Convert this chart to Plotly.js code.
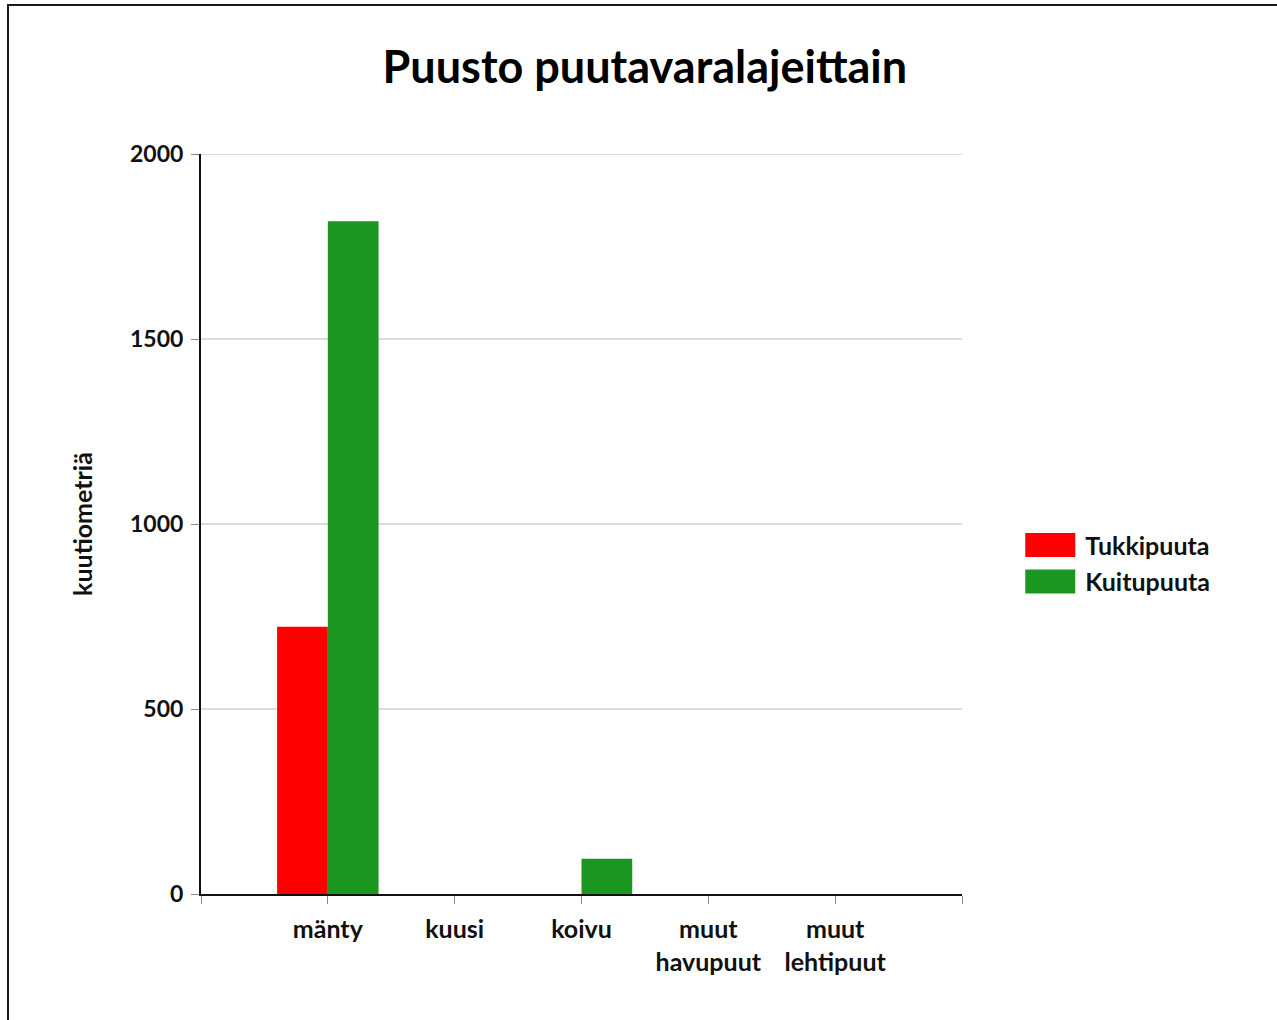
<!DOCTYPE html>
<html>
<head>
<meta charset="utf-8">
<script src="https://cdn.plot.ly/plotly-3.0.1.min.js"></script>
<style>
  html, body { margin: 0; padding: 0; background: #fff; }
  #chart { position: absolute; left: 0; top: 0; width: 1277px; height: 1020px; }
  #frame { position: absolute; left: 7px; top: 4px; width: 1270px; height: 1016px;
           border-top: 2px solid #1a1a1a; border-left: 2px solid #1a1a1a;
           box-sizing: border-box; pointer-events: none; }
</style>
</head>
<body>
<div id="chart"></div>
<div id="frame"></div>
<script>
const categories = ["mänty", "kuusi", "koivu", "muut<br>havupuut", "muut<br>lehtipuut"];
const seriesNames = ["Tukkipuuta", "Kuitupuuta"];
const tukkipuuta = [722, 0, 0, 0, 0];
const kuitupuuta = [1818, 0, 95, 0, 0];
const yTicks = [0, 500, 1000, 1500, 2000];

const FONT = "Lato, 'Open Sans', sans-serif";
const idx = categories.map((c, i) => i);
const yMax = yTicks[yTicks.length - 1];

const traces = [
  { type: "bar", name: seriesNames[0], x: idx, y: tukkipuuta,
    marker: { color: "#ff0000", line: { width: 0 } }, legendgroup: "a" },
  { type: "bar", name: seriesNames[1], x: idx, y: kuitupuuta,
    marker: { color: "#1b9620", line: { width: 0 } }, legendgroup: "b" }
];

const tickvals = [-1].concat(idx, [categories.length]);
const ticktext = [""].concat(categories, [""]);

const layout = {
  width: 1277, height: 1020,
  paper_bgcolor: "#fff", plot_bgcolor: "#fff",
  margin: { l: 201, r: 315, t: 154, b: 126, pad: 0 },
  font: { family: FONT, size: 25, color: "#111" },
  title: { text: "<b>Puusto puutavaralajeittain</b>", font: { family: FONT, size: 45, color: "#000" },
           xref: "container", x: 0.505, xanchor: "center", yref: "container", y: 0.934, yanchor: "middle" },
  barmode: "group", bargap: 0.2, bargroupgap: 0,
  xaxis: {
    range: [-1, categories.length], tickmode: "array", tickvals: tickvals, ticktext: ticktext.map(t => t ? "<b>" + t + "</b>" : ""),
    showgrid: false, zeroline: false, showline: true, linecolor: "#111", linewidth: 2,
    ticks: "outside", ticklen: 8, tickwidth: 1, tickcolor: "#888", ticklabelstandoff: 4,
    tickfont: { family: FONT, size: 25, color: "#111" }, fixedrange: true
  },
  yaxis: {
    range: [0, yMax], tickmode: "array", tickvals: yTicks, ticktext: yTicks.map(v => "<b>" + v + "</b>"),
    showgrid: true, gridcolor: "#dcdcdc", gridwidth: 2, zeroline: false,
    showline: true, linecolor: "#111", linewidth: 2,
    ticks: "outside", ticklen: 8, tickwidth: 1, tickcolor: "#888", ticklabelstandoff: 3,
    tickfont: { family: FONT, size: 23, color: "#111" },
    title: { text: "<b>kuutiometriä</b>", font: { family: FONT, size: 25, color: "#111" }, standoff: 30 },
    fixedrange: true
  },
  shapes: [
    { type: "line", xref: "paper", x0: 0, x1: 1, yref: "y", y0: yMax, y1: yMax,
      line: { color: "#dcdcdc", width: 2 }, layer: "below" }
  ],
  showlegend: true,
  legend: { x: 1.07, xanchor: "left", y: 0.447, yanchor: "middle", xref: "paper", yref: "paper",
            font: { family: FONT, size: 25, color: "#111" }, itemwidth: 60, tracegroupgap: 1,
            bgcolor: "rgba(0,0,0,0)" }
};

Plotly.newPlot("chart", traces, layout, { staticPlot: true, displayModeBar: false }).then(gd => {
  gd.querySelectorAll(".legend .traces").forEach(tr => {
    tr.querySelectorAll(".legendpoints path").forEach(p => p.setAttribute("d", "M25,12H-25V-12H25Z"));
    tr.querySelectorAll("text.legendtext").forEach(t => { t.innerHTML = "<tspan font-weight='bold'>" + t.textContent + "</tspan>"; });
  });
});
</script>
</body>
</html>
